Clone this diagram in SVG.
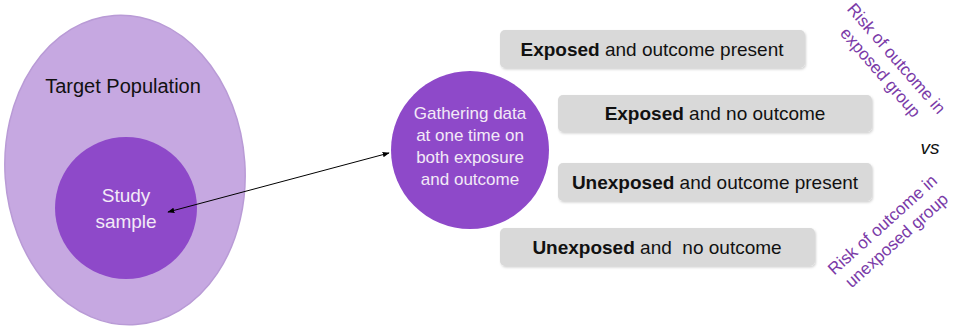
<svg xmlns="http://www.w3.org/2000/svg" width="953" height="326" viewBox="0 0 953 326">
  <defs>
    <marker id="arrow" viewBox="0 0 10 10" refX="9" refY="5" markerWidth="7" markerHeight="7" orient="auto-start-reverse" markerUnits="userSpaceOnUse">
      <path d="M0,1 L10,5 L0,9 z" fill="#000"/>
    </marker>
    <filter id="shadow" x="-5%" y="-20%" width="110%" height="150%">
      <feDropShadow dx="1" dy="1.5" stdDeviation="1.2" flood-color="#000" flood-opacity="0.18"/>
    </filter>
  </defs>
  <style>
    text { font-family: "Liberation Sans", Arial, sans-serif; }
    .pop { fill: #c6a8e1; stroke: #b99bd6; stroke-width: 1.5; }
    .core { fill: #8e49c9; }
    .light { fill: #f3eaf7; text-anchor: middle; }
    .dark { fill: #111; font-size: 20px; text-anchor: middle; }
    .box { fill: #d9d9d9; filter: url(#shadow); }
    .label { fill: #111; font-size: 19px; text-anchor: middle; }
    .risk { fill: #7a3aa8; font-size: 17px; text-anchor: middle; }
    .link { stroke: #000; stroke-width: 1; fill: none; }
  </style>

  <!-- Population and sample -->
  <g id="target-population">
    <ellipse class="pop" cx="125" cy="170" rx="120" ry="155" transform="rotate(-4 125 170)"/>
    <text class="dark" x="123" y="93">Target Population</text>
  </g>
  <g id="study-sample">
    <circle class="core" cx="126" cy="208" r="71"/>
    <text class="light" x="126" y="202" font-size="19">Study</text>
    <text class="light" x="126" y="228" font-size="19">sample</text>
  </g>

  <!-- Data collection -->
  <g id="gathering-data">
    <circle class="core" cx="470" cy="150" r="79"/>
    <text class="light" x="470" y="119" font-size="17">Gathering data</text>
    <text class="light" x="470" y="141" font-size="17">at one time on</text>
    <text class="light" x="470" y="163" font-size="17">both exposure</text>
    <text class="light" x="470" y="185" font-size="17">and outcome</text>
  </g>

  <!-- Exposure / outcome groups -->
  <g id="exposed-outcome">
    <rect class="box" x="500" y="30" width="305" height="38" rx="5"/>
    <text class="label" x="652" y="56"><tspan font-weight="bold">Exposed</tspan> and outcome present</text>
  </g>
  <g id="exposed-no-outcome">
    <rect class="box" x="558" y="95" width="314" height="37" rx="5"/>
    <text class="label" x="715" y="120"><tspan font-weight="bold">Exposed</tspan> and no outcome</text>
  </g>
  <g id="unexposed-outcome">
    <rect class="box" x="558" y="163" width="314" height="38" rx="5"/>
    <text class="label" x="715" y="189"><tspan font-weight="bold">Unexposed</tspan> and outcome present</text>
  </g>
  <g id="unexposed-no-outcome">
    <rect class="box" x="500" y="228" width="315" height="38" rx="5"/>
    <text class="label" x="657" y="254" xml:space="preserve"><tspan font-weight="bold">Unexposed</tspan> and  no outcome</text>
  </g>

  <!-- Risk comparison -->
  <g id="risk-exposed" transform="translate(889 65) rotate(49)">
    <text class="risk" x="0" y="-4">Risk of outcome in</text>
    <text class="risk" x="0" y="17">exposed group</text>
  </g>
  <g id="versus">
    <text x="930" y="154" font-size="19" font-style="italic" fill="#111" text-anchor="middle">vs</text>
  </g>
  <g id="risk-unexposed" transform="translate(889 232) rotate(-42)">
    <text class="risk" x="0" y="-4">Risk of outcome in</text>
    <text class="risk" x="0" y="17">unexposed group</text>
  </g>

  <!-- Connectors -->
  <g id="connectors">
    <line class="link" x1="168" y1="212" x2="389" y2="153" marker-start="url(#arrow)" marker-end="url(#arrow)"/>
  </g>
</svg>
